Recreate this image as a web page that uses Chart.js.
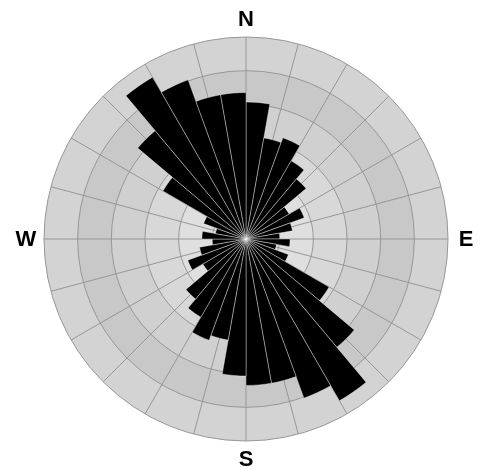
<!DOCTYPE html>
<html>
<head>
<meta charset="utf-8">
<script src="https://cdn.jsdelivr.net/npm/chart.js@4/dist/chart.umd.min.js"></script>
<style>
  html, body { margin: 0; padding: 0; background: #ffffff; }
  #wrap { width: 484px; height: 470px; position: relative; }
</style>
</head>
<body>
<div id="wrap"><canvas id="c"></canvas></div>
<script>
// 10-degree direction bins, clockwise from north
const binLabels = [
  '0-10','10-20','20-30','30-40','40-50','50-60','60-70','70-80','80-90',
  '90-100','100-110','110-120','120-130','130-140','140-150','150-160','160-170','170-180',
  '180-190','190-200','200-210','210-220','220-230','230-240','240-250','250-260','260-270',
  '270-280','280-290','290-300','300-310','310-320','320-330','330-340','340-350','350-360'
];
// bar lengths (grid rings at 1..6)
const binValues = [
  4.07, 3.05, 3.2, 2.68, 2.33, 1.48, 1.84, 1.4, 1.0,
  1.31, 0.92, 1.34, 2.85, 4.2, 5.55, 5.03, 4.35, 4.35,
  4.07, 3.05, 3.2, 2.68, 2.33, 1.48, 1.84, 1.4, 1.0,
  1.31, 0.92, 1.34, 2.85, 4.2, 5.55, 5.03, 4.35, 4.35
];
const ringValues = [1, 2, 3, 4, 5, 6];
const bandColors = ['#e3e3e3', '#dfdfdf', '#d8d8d8', '#d0d0d0', '#c8c8c8', '#d3d3d3'];
const spokeAngles = [0,15,30,45,60,75,90,105,120,135,150,165,180,195,210,225,240,255,270,285,300,315,330,345];
const compassLabels = ['N', 'E', 'S', 'W'];
const compassAngles = [0, 90, 180, 270];

const roseBackground = {
  id: 'roseBackground',
  beforeDraw(chart) {
    const s = chart.scales.r;
    const ctx = chart.ctx;
    ctx.save();
    for (let i = ringValues.length - 1; i >= 0; i--) {
      ctx.beginPath();
      ctx.arc(s.xCenter, s.yCenter, s.getDistanceFromCenterForValue(ringValues[i]), 0, Math.PI * 2);
      ctx.fillStyle = bandColors[i];
      ctx.fill();
    }
    ctx.restore();
  },
  beforeDatasetsDraw(chart) {
    const s = chart.scales.r;
    const ctx = chart.ctx;
    const R = s.getDistanceFromCenterForValue(s.max);
    ctx.save();
    ctx.strokeStyle = '#979797';
    ctx.lineWidth = 1;
    spokeAngles.forEach(a => {
      const t = (a - 90) * Math.PI / 180;
      ctx.beginPath();
      ctx.moveTo(s.xCenter, s.yCenter);
      ctx.lineTo(s.xCenter + R * Math.cos(t), s.yCenter + R * Math.sin(t));
      ctx.stroke();
    });
    ctx.restore();
  },
  afterDraw(chart) {
    const s = chart.scales.r;
    const ctx = chart.ctx;
    const R = s.getDistanceFromCenterForValue(s.max) + 18;
    ctx.save();
    ctx.fillStyle = '#000000';
    ctx.font = 'bold 22px "Liberation Sans", Arial, sans-serif';
    ctx.textAlign = 'center';
    ctx.textBaseline = 'middle';
    compassLabels.forEach((lab, i) => {
      const t = (compassAngles[i] - 90) * Math.PI / 180;
      ctx.fillText(lab, s.xCenter + R * Math.cos(t), s.yCenter + R * Math.sin(t) + 1);
    });
    ctx.restore();
  }
};

new Chart(document.getElementById('c'), {
  type: 'polarArea',
  data: {
    labels: binLabels,
    datasets: [{
      data: binValues,
      backgroundColor: '#000000',
      borderColor: 'rgba(255,255,255,0.55)',
      borderWidth: 0.7
    }]
  },
  options: {
    responsive: true,
    maintainAspectRatio: false,
    animation: false,
    layout: { padding: { left: 44, right: 36, top: 37, bottom: 29 } },
    plugins: { legend: { display: false }, tooltip: { enabled: false } },
    scales: {
      r: {
        min: 0,
        max: 6,
        startAngle: 0,
        ticks: { display: false, stepSize: 1 },
        grid: { color: '#979797', lineWidth: 1 },
        angleLines: { display: false },
        pointLabels: { display: false }
      }
    }
  },
  plugins: [roseBackground]
});
</script>
</body>
</html>
